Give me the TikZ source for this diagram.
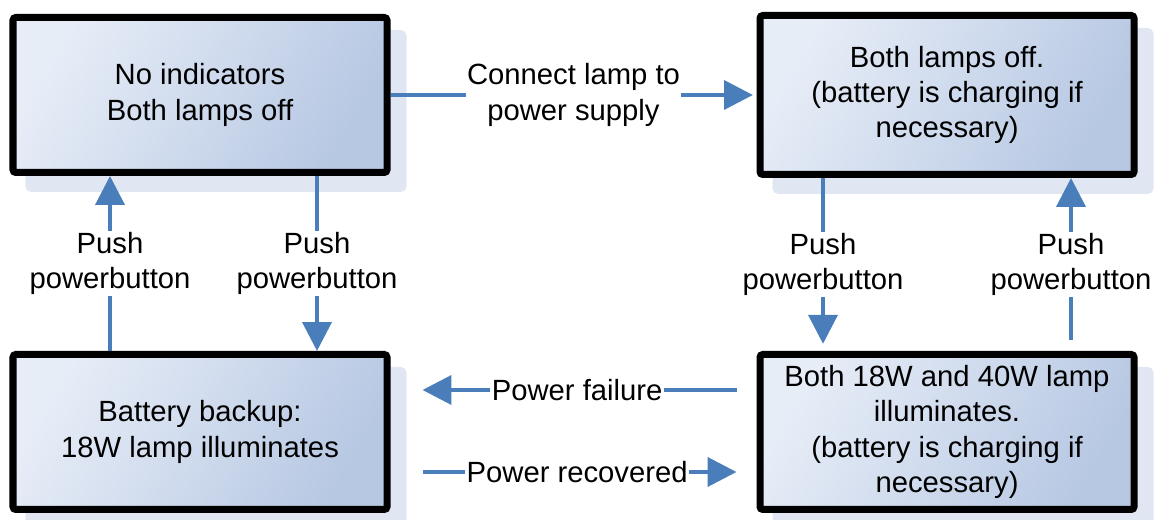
\documentclass[tikz,border=0pt]{standalone}
\usepackage{fontspec}
\setmainfont{Liberation Sans}
\usetikzlibrary{arrows.meta,shadows}
\definecolor{flowblue}{RGB}{74,126,187}
\definecolor{boxlight}{RGB}{231,237,247}
\definecolor{boxdark}{RGB}{183,200,227}
\definecolor{shadowblue}{RGB}{224,231,242}
\begin{document}
\begin{tikzpicture}[every node/.style={font=\fontsize{20.8}{25}\selectfont,align=center},
  state/.style={draw=black,line width=0.175cm,rounded corners=2pt,minimum width=9.35cm,minimum height=3.875cm,
    top color=boxlight,bottom color=boxdark,shading angle=60,
    drop shadow={shadow xshift=0.4cm,shadow yshift=-0.4cm,fill=shadowblue,draw=shadowblue,line width=0.175cm,opacity=1}},
  flow/.style={draw=flowblue,line width=0.1cm,-{Triangle[length=0.72cm,width=0.72cm]}},
  lbl/.style={fill=white,inner sep=1pt}]
\useasboundingbox (0,0) rectangle (29.1,13);
% states
\node[state] (off) at (5.0,10.625) {No indicators\\Both lamps off};
\node[state,minimum height=3.975cm] (supply) at (23.675,10.625) {Both lamps off.\\(battery is charging if\\necessary)};
\node[state] (backup) at (5.0,2.2) {Battery backup:\\18W lamp illuminates};
\node[state] (both) at (23.675,2.2) {Both 18W and 40W lamp\\illuminates.\\(battery is charging if\\necessary)};
% transitions
\draw[flow,shorten >=0.09cm] (off.east) -- node[lbl] {Connect lamp to\\power supply} (supply.west);
\draw[flow] ([xshift=-2.25cm]backup.north) -- node[lbl] {Push\\powerbutton} ([xshift=-2.25cm]off.south);
\draw[flow] ([xshift=2.925cm]off.south) -- node[lbl] {Push\\powerbutton} ([xshift=2.925cm]backup.north);
\draw[flow,shorten >=0.18cm] ([xshift=-3.1cm]supply.south) -- node[lbl] {Push\\powerbutton} ([xshift=-3.1cm]both.north);
\draw[flow,shorten <=0.28cm] ([xshift=3.1cm]both.north) -- node[lbl] {Push\\powerbutton} ([xshift=3.1cm]supply.south);
\draw[flow,shorten <=0.5cm,shorten >=0.8cm] ([yshift=1.05cm]both.west) -- node[lbl,pos=0.49] {Power failure} ([yshift=1.05cm]backup.east);
\draw[flow,shorten <=0.8cm,shorten >=0.5cm] ([yshift=-1.0cm]backup.east) -- node[lbl,pos=0.51] {Power recovered} ([yshift=-1.0cm]both.west);
\end{tikzpicture}
\end{document}
